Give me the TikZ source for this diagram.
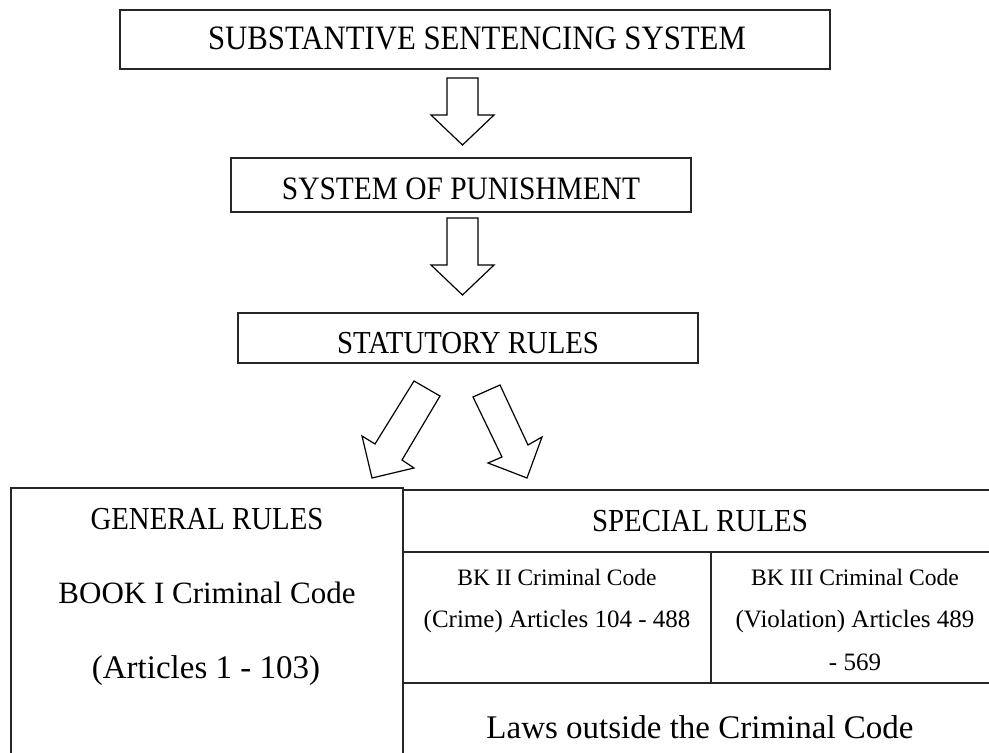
\documentclass[tikz,border=0pt]{standalone}
\usepackage{fontspec}
\setmainfont{Liberation Serif}
\newfontfamily\capfont[FakeStretch=0.9]{Liberation Serif}
\newcommand\fsz[1]{\fontsize{#1}{#1}\selectfont}
\begin{document}
\begin{tikzpicture}[x=1pt,y=-1pt,
  boxline/.style={draw=black!85, line width=1.3pt},
  blockarrow/.style={draw=black, line width=1.2pt, fill=white, line join=miter},
  txt/.style={inner sep=0pt, anchor=base}]
\useasboundingbox (0,0) rectangle (989,753);
% top boxes
\draw[boxline] (120,10) rectangle (830,69);
\node[txt,font=\capfont\fsz{34.2}] (sss) at (477,49) {SUBSTANTIVE SENTENCING SYSTEM};
\draw[boxline] (231,158) rectangle (691,212);
\node[txt,font=\capfont\fsz{32.7}] (sop) at (461,199) {SYSTEM OF PUNISHMENT};
\draw[boxline] (238,313) rectangle (698,363);
\node[txt,font=\capfont\fsz{32}] (sr) at (468,353) {STATUTORY RULES};
% block arrows
\draw[blockarrow] (447,78) -- (478,78) -- (478,115) -- (494,115) -- (462.5,145) -- (431,115) -- (447,115) -- cycle;
\draw[blockarrow] (447,218) -- (478,218) -- (478,265) -- (494,265) -- (462.5,295) -- (431,265) -- (447,265) -- cycle;
\draw[blockarrow] (414,381) -- (440,396) -- (402,460) -- (414,468) -- (372,478) -- (362,436) -- (375,444) -- cycle;
\draw[blockarrow] (473,397) -- (500,385) -- (528,445) -- (542,437) -- (527,478) -- (488,463) -- (502,457) -- cycle;
% bottom left box
\draw[boxline] (11,760) -- (11,488) -- (403,488) -- (403,760);
\node[txt,font=\capfont\fsz{32}] (gr) at (207,529) {GENERAL RULES};
\node[txt,font=\fsz{31}] (bk1) at (207,603) {BOOK I Criminal Code};
\node[txt,font=\fsz{33}] (art) at (206,678) {(Articles 1 - 103)};
% bottom right box
\draw[boxline] (403,490) -- (995,490);
\draw[boxline] (403,552) -- (995,552);
\draw[boxline] (711,552) -- (711,683);
\draw[boxline] (403,683) -- (995,683);
\node[txt,font=\capfont\fsz{32.1}] (spr) at (700,531) {SPECIAL RULES};
\node[txt,font=\fsz{23.5}] (bk2a) at (557,585) {BK II Criminal Code};
\node[txt,font=\fsz{25}] (bk2b) at (557,627) {(Crime) Articles 104 - 488};
\node[txt,font=\fsz{23.6}] (bk3a) at (855,585) {BK III Criminal Code};
\node[txt,font=\fsz{25}] (bk3b) at (855,627) {(Violation) Articles 489};
\node[txt,font=\fsz{25}] (bk3c) at (855,670) {- 569};
\node[txt,font=\fsz{33}] (laws) at (700,738) {Laws outside the Criminal Code};
\end{tikzpicture}
\end{document}
